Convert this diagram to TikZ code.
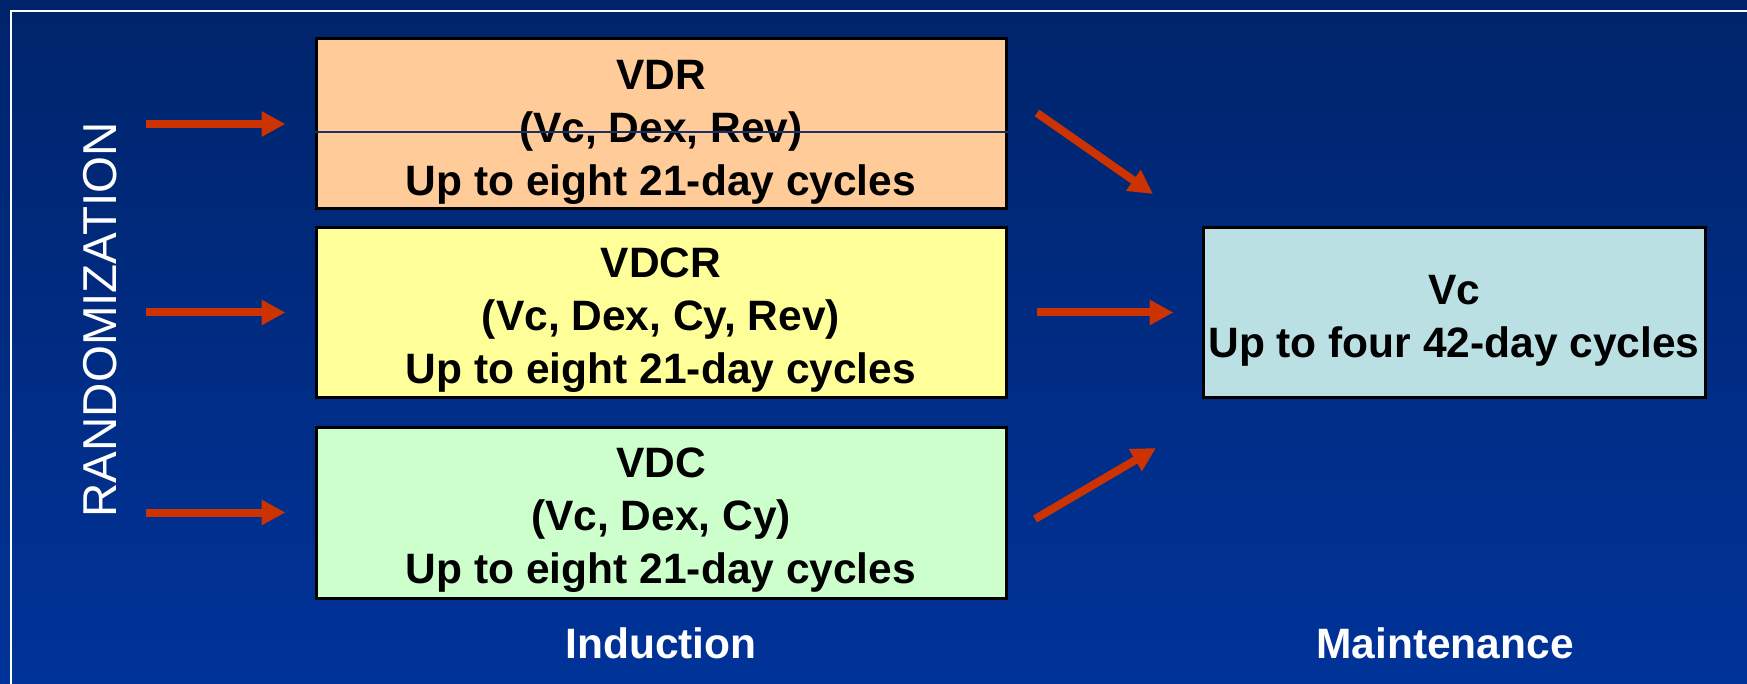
\documentclass[tikz,border=0pt]{standalone}
\usepackage{fontspec}
\setmainfont{Liberation Sans}
\usetikzlibrary{arrows.meta}
\definecolor{bgtop}{HTML}{00246B}
\definecolor{bgbot}{HTML}{003399}
\definecolor{arr}{HTML}{CC3300}
\definecolor{cvdr}{HTML}{FFCC99}
\definecolor{cvdcr}{HTML}{FFFF99}
\definecolor{cvdc}{HTML}{CCFFCC}
\definecolor{cvc}{HTML}{BBE0E3}
\definecolor{navy}{HTML}{1A2F66}
\tikzset{
  regbox/.style={draw=black, line width=3pt, minimum width=690pt, minimum height=170pt,
    inner sep=0pt},
  regtext/.style={inner sep=0pt, align=center, font=\fontsize{42.5}{53}\selectfont\bfseries, text=black},
  flow/.style={draw=arr, line width=8pt, -{Triangle[length=24pt,width=24pt]}},
  phase/.style={text=white, font=\fontsize{42.5}{50}\selectfont\bfseries}
}
\begin{document}
\begin{tikzpicture}[x=1pt,y=-1pt]
\shade[top color=bgtop, bottom color=bgbot] (0,0) rectangle (1747,684);
\useasboundingbox (0,0) rectangle (1747,684);
\draw[white, line width=2.5pt] (11,684) -- (11,11) -- (1747,11);

\node[regbox, fill=cvdr] (vdr) at (661,124) {};
\node[regbox, fill=cvdcr] (vdcr) at (661,312.5) {};
\node[regbox, fill=cvdc, minimum height=171pt] (vdc) at (661,512.5) {};
\node[regbox, fill=cvc, minimum width=502pt] (vc) at (1454,312.5) {};

\node[regtext] (vdrt) at ([yshift=-8pt]vdr.center) {VDR\\(Vc, Dex, Rev)\\Up to eight 21-day cycles};
\node[regtext] (vdcrt) at ([yshift=-8pt]vdcr.center) {VDCR\\(Vc, Dex, Cy, Rev)\\Up to eight 21-day cycles};
\node[regtext] (vdct) at ([yshift=-8pt]vdc.center) {VDC\\(Vc, Dex, Cy)\\Up to eight 21-day cycles};
\node[regtext] (vct) at ([yshift=-8pt]vc.center) {Vc\\Up to four 42-day cycles};

\draw[navy, line width=1.2pt] (vdr.west |- 0,132) -- (vdr.east |- 0,132);

\node[text=white, rotate=90, font=\fontsize{47.5}{50}\selectfont] (rand) at (100,320) {RANDOMIZATION};

\coordinate (s1) at (146,124);
\coordinate (s2) at (146,312.5);
\coordinate (s3) at (146,512.5);
\draw[flow, shorten >=29pt] (s1) -- (vdr.west);
\draw[flow, shorten >=29pt] (s2) -- (vdcr.west);
\draw[flow, shorten >=29pt] (s3) -- (vdc.west);

\draw[flow, shorten <=29pt, shorten >=28pt] (vdcr.east) -- (vc.west);
\coordinate (d1a) at (1037,113);
\coordinate (d1b) at (1153,194);
\coordinate (d3a) at (1035,519);
\coordinate (d3b) at (1156,448);
\draw[flow] (d1a) -- (d1b);
\draw[flow] (d3a) -- (d3b);

\node[phase] (ind) at (661,643) {Induction};
\node[phase] (mnt) at (1445,643) {Maintenance};
\end{tikzpicture}
\end{document}
